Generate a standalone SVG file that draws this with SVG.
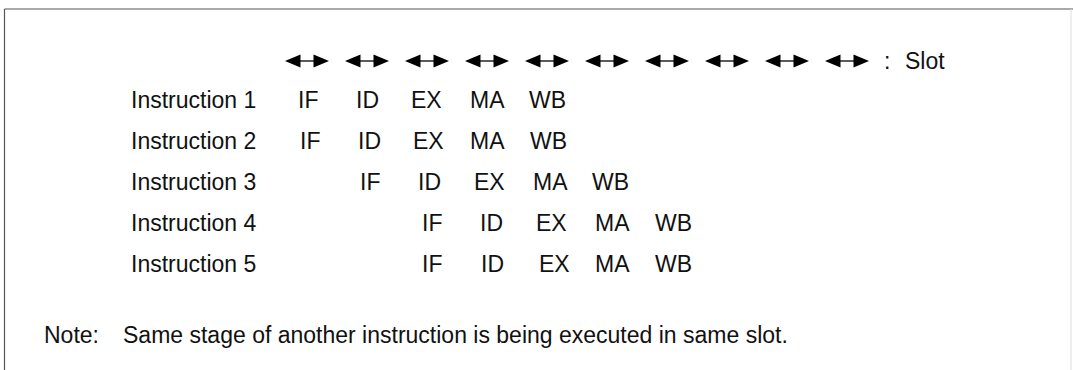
<svg xmlns="http://www.w3.org/2000/svg" width="1073" height="370" viewBox="0 0 1073 370">
  <style>
    text { font-family: "Liberation Sans", Arial, sans-serif; font-size: 23px; fill: #111; }
    .frame { stroke: #555; stroke-width: 1.2; fill: none; }
    .frame-light { stroke: #ddd; stroke-width: 1; fill: none; }
  </style>
  <defs>
    <g id="slotArrow">
      <polygon points="0,0 15.5,-6.5 15.5,6.5" fill="#000"/>
      <line x1="14" y1="0" x2="30" y2="0" stroke="#000" stroke-width="1.3"/>
      <polygon points="44,0 28.5,-6.5 28.5,6.5" fill="#000"/>
    </g>
  </defs>
  <rect width="1073" height="370" fill="#fff"/>
  <g id="frame">
    <line class="frame" x1="4.5" y1="9" x2="1073" y2="9"/>
    <line class="frame" x1="4.5" y1="9" x2="4.5" y2="370"/>
    <line class="frame-light" x1="1071" y1="9" x2="1071" y2="370"/>
  </g>
  <g id="slot-legend">
    <use href="#slotArrow" x="285" y="61"/>
    <use href="#slotArrow" x="345" y="61"/>
    <use href="#slotArrow" x="405" y="61"/>
    <use href="#slotArrow" x="465" y="61"/>
    <use href="#slotArrow" x="525" y="61"/>
    <use href="#slotArrow" x="585" y="61"/>
    <use href="#slotArrow" x="645" y="61"/>
    <use href="#slotArrow" x="705" y="61"/>
    <use href="#slotArrow" x="765" y="61"/>
    <use href="#slotArrow" x="825" y="61"/>
    <text x="884" y="69">:</text>
    <text x="905" y="69">Slot</text>
  </g>
  <g id="instruction-1">
    <text x="131" y="108">Instruction 1</text>
    <text x="298" y="108">IF</text>
    <text x="356" y="108">ID</text>
    <text x="411" y="108">EX</text>
    <text x="470" y="108">MA</text>
    <text x="529" y="108">WB</text>
  </g>
  <g id="instruction-2">
    <text x="131" y="149">Instruction 2</text>
    <text x="300" y="149">IF</text>
    <text x="358" y="149">ID</text>
    <text x="413" y="149">EX</text>
    <text x="470" y="149">MA</text>
    <text x="530" y="149">WB</text>
  </g>
  <g id="instruction-3">
    <text x="131" y="190">Instruction 3</text>
    <text x="360" y="190">IF</text>
    <text x="418" y="190">ID</text>
    <text x="474" y="190">EX</text>
    <text x="533" y="190">MA</text>
    <text x="592" y="190">WB</text>
  </g>
  <g id="instruction-4">
    <text x="131" y="231">Instruction 4</text>
    <text x="422" y="231">IF</text>
    <text x="480" y="231">ID</text>
    <text x="536" y="231">EX</text>
    <text x="595" y="231">MA</text>
    <text x="655" y="231">WB</text>
  </g>
  <g id="instruction-5">
    <text x="131" y="272">Instruction 5</text>
    <text x="422" y="272">IF</text>
    <text x="481" y="272">ID</text>
    <text x="539" y="272">EX</text>
    <text x="595" y="272">MA</text>
    <text x="655" y="272">WB</text>
  </g>
  <g id="note">
    <text x="44" y="343">Note:</text>
    <text x="123" y="343">Same stage of another instruction is being executed in same slot.</text>
  </g>
</svg>
